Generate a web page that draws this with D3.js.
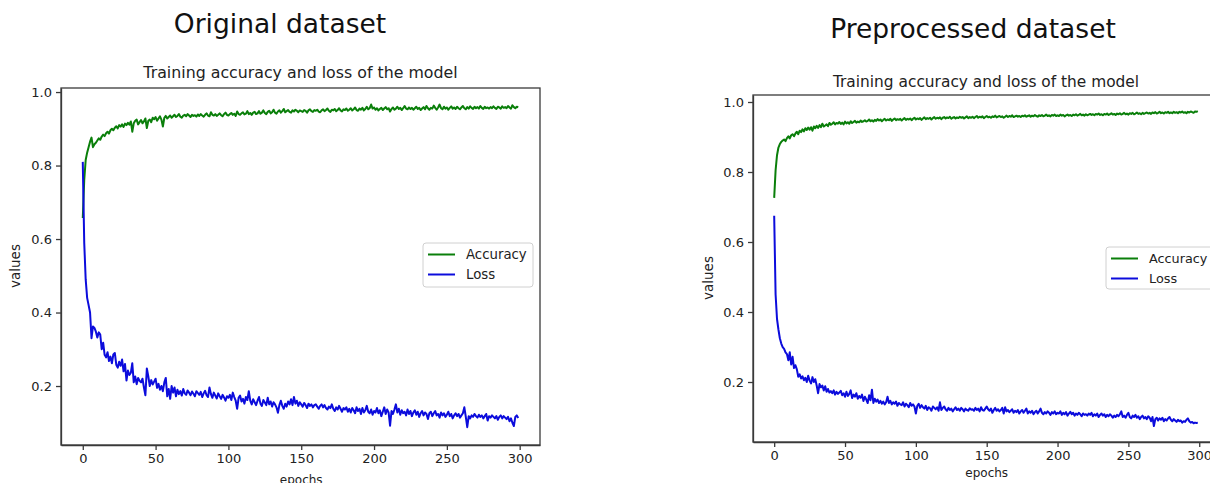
<!DOCTYPE html>
<html>
<head>
<meta charset="utf-8">
<script src="https://cdn.jsdelivr.net/npm/d3@7"></script>
<style>
  body { margin: 0; background: #fff; }
  svg { display: block; }
  .axis text { font-family: "DejaVu Sans", sans-serif; font-size: 13px; fill: #222; }
  .axis path, .axis line { stroke: #3a3a3a; stroke-width: 1.3; }
</style>
</head>
<body>
<svg id="chart" width="1210" height="483"></svg>
<script>
// values, one per epoch (0..299)
var orig_acc = [
  0.657, 0.760, 0.815, 0.835, 0.850, 0.865, 0.876, 0.850, 0.858, 0.862, 0.868, 0.874, 0.870, 0.879, 0.884, 0.880, 0.888, 0.892, 0.887, 0.896,
  0.900, 0.896, 0.903, 0.907, 0.901, 0.910, 0.906, 0.912, 0.905, 0.914, 0.910, 0.916, 0.911, 0.920, 0.892, 0.915, 0.922, 0.925, 0.912, 0.918,
  0.924, 0.915, 0.920, 0.928, 0.902, 0.922, 0.925, 0.918, 0.930, 0.926, 0.932, 0.922, 0.928, 0.934, 0.925, 0.906, 0.930, 0.935, 0.928, 0.932,
  0.936, 0.930, 0.934, 0.938, 0.932, 0.935, 0.940, 0.933, 0.930, 0.936, 0.938, 0.934, 0.940, 0.936, 0.932, 0.938, 0.935, 0.937, 0.933, 0.939,
  0.935, 0.940, 0.936, 0.933, 0.938, 0.942, 0.936, 0.934, 0.945, 0.938, 0.936, 0.940, 0.935, 0.938, 0.942, 0.937, 0.934, 0.940, 0.944, 0.938,
  0.936, 0.940, 0.943, 0.938, 0.941, 0.935, 0.947, 0.940, 0.938, 0.942, 0.945, 0.939, 0.941, 0.948, 0.940, 0.943, 0.938, 0.944, 0.946, 0.940,
  0.942, 0.948, 0.941, 0.944, 0.950, 0.943, 0.940, 0.946, 0.949, 0.942, 0.945, 0.952, 0.944, 0.941, 0.947, 0.950, 0.944, 0.948, 0.954, 0.945,
  0.948, 0.951, 0.946, 0.944, 0.950, 0.947, 0.952, 0.949, 0.945, 0.950, 0.948, 0.946, 0.951, 0.949, 0.944, 0.950, 0.953, 0.948, 0.946, 0.951,
  0.949, 0.952, 0.947, 0.945, 0.950, 0.953, 0.948, 0.951, 0.955, 0.949, 0.946, 0.952, 0.950, 0.954, 0.948, 0.951, 0.956, 0.950, 0.947, 0.953,
  0.951, 0.955, 0.949, 0.952, 0.956, 0.950, 0.953, 0.958, 0.951, 0.949, 0.955, 0.952, 0.957, 0.950, 0.954, 0.960, 0.953, 0.956, 0.966, 0.955,
  0.958, 0.952, 0.956, 0.950, 0.954, 0.957, 0.951, 0.955, 0.959, 0.953, 0.956, 0.947, 0.954, 0.958, 0.952, 0.955, 0.960, 0.954, 0.957, 0.951,
  0.956, 0.962, 0.955, 0.953, 0.958, 0.954, 0.957, 0.952, 0.956, 0.960, 0.954, 0.957, 0.951, 0.955, 0.959, 0.953, 0.962, 0.956, 0.952, 0.957,
  0.955, 0.963, 0.957, 0.952, 0.958, 0.966, 0.956, 0.953, 0.960, 0.955, 0.958, 0.952, 0.957, 0.961, 0.955, 0.958, 0.954, 0.960, 0.956, 0.953,
  0.958, 0.962, 0.956, 0.953, 0.959, 0.955, 0.961, 0.957, 0.954, 0.960, 0.956, 0.959, 0.955, 0.962, 0.957, 0.954, 0.960, 0.956, 0.958, 0.955,
  0.959, 0.956, 0.961, 0.957, 0.954, 0.960, 0.958, 0.955, 0.961, 0.957, 0.959, 0.956, 0.962, 0.958, 0.955, 0.964, 0.959, 0.956, 0.960, 0.958
];

var orig_loss = [
  0.810, 0.590, 0.490, 0.440, 0.420, 0.400, 0.330, 0.362, 0.358, 0.348, 0.332, 0.346, 0.340, 0.300, 0.318, 0.285, 0.278, 0.292, 0.268, 0.280,
  0.262, 0.286, 0.290, 0.258, 0.250, 0.266, 0.255, 0.272, 0.240, 0.260, 0.215, 0.242, 0.230, 0.236, 0.262, 0.210, 0.226, 0.205, 0.222, 0.214,
  0.210, 0.220, 0.196, 0.175, 0.248, 0.226, 0.200, 0.216, 0.204, 0.212, 0.220, 0.195, 0.206, 0.190, 0.200, 0.186, 0.210, 0.222, 0.172, 0.192,
  0.165, 0.200, 0.182, 0.196, 0.172, 0.190, 0.178, 0.186, 0.174, 0.192, 0.180, 0.176, 0.188, 0.182, 0.175, 0.185, 0.179, 0.172, 0.186, 0.181,
  0.176, 0.184, 0.170, 0.180, 0.187, 0.175, 0.170, 0.196, 0.178, 0.168, 0.182, 0.174, 0.166, 0.180, 0.172, 0.165, 0.176, 0.169, 0.160, 0.172,
  0.168, 0.176, 0.162, 0.182, 0.170, 0.160, 0.138, 0.168, 0.174, 0.158, 0.165, 0.152, 0.170, 0.162, 0.186, 0.160, 0.150, 0.164, 0.156, 0.148,
  0.160, 0.170, 0.152, 0.146, 0.162, 0.155, 0.148, 0.168, 0.150, 0.158, 0.144, 0.156, 0.150, 0.142, 0.127, 0.148, 0.160, 0.146, 0.138, 0.152,
  0.144, 0.158, 0.150, 0.164, 0.148, 0.170, 0.152, 0.160, 0.146, 0.156, 0.150, 0.144, 0.154, 0.148, 0.140, 0.152, 0.146, 0.150, 0.142, 0.148,
  0.150, 0.144, 0.138, 0.146, 0.150, 0.142, 0.148, 0.140, 0.136, 0.144, 0.140, 0.150, 0.138, 0.132, 0.142, 0.136, 0.146, 0.138, 0.130, 0.140,
  0.136, 0.142, 0.130, 0.138, 0.128, 0.140, 0.134, 0.126, 0.142, 0.132, 0.138, 0.124, 0.140, 0.128, 0.134, 0.146, 0.130, 0.126, 0.136, 0.122,
  0.132, 0.128, 0.140, 0.126, 0.134, 0.118, 0.130, 0.142, 0.124, 0.136, 0.128, 0.092, 0.132, 0.124, 0.136, 0.150, 0.128, 0.138, 0.122, 0.134,
  0.126, 0.130, 0.120, 0.136, 0.124, 0.132, 0.118, 0.128, 0.134, 0.122, 0.130, 0.116, 0.126, 0.132, 0.120, 0.128, 0.124, 0.110, 0.126, 0.130,
  0.118, 0.126, 0.132, 0.120, 0.124, 0.114, 0.128, 0.120, 0.126, 0.116, 0.122, 0.130, 0.118, 0.124, 0.112, 0.120, 0.126, 0.118, 0.124, 0.114,
  0.120, 0.126, 0.142, 0.116, 0.088, 0.118, 0.112, 0.120, 0.116, 0.124, 0.118, 0.114, 0.122, 0.116, 0.120, 0.112, 0.118, 0.124, 0.106, 0.118,
  0.114, 0.120, 0.116, 0.112, 0.118, 0.108, 0.116, 0.120, 0.112, 0.118, 0.114, 0.110, 0.116, 0.104, 0.112, 0.100, 0.091, 0.116, 0.120, 0.113
];

var prep_acc = [
  0.726, 0.805, 0.848, 0.870, 0.880, 0.886, 0.890, 0.893, 0.888, 0.897, 0.902, 0.896, 0.905, 0.908, 0.902, 0.910, 0.915, 0.908, 0.918, 0.914,
  0.922, 0.916, 0.925, 0.920, 0.927, 0.921, 0.928, 0.918, 0.930, 0.925, 0.932, 0.926, 0.934, 0.928, 0.938, 0.930, 0.933, 0.936, 0.931, 0.940,
  0.935, 0.938, 0.942, 0.936, 0.940, 0.938, 0.943, 0.937, 0.941, 0.936, 0.944, 0.939, 0.942, 0.938, 0.945, 0.940, 0.943, 0.946, 0.941, 0.944,
  0.942, 0.947, 0.943, 0.945, 0.948, 0.944, 0.946, 0.950, 0.945, 0.948, 0.944, 0.949, 0.946, 0.951, 0.947, 0.950, 0.945, 0.949, 0.952, 0.947,
  0.950, 0.948, 0.952, 0.946, 0.950, 0.953, 0.948, 0.951, 0.949, 0.952, 0.947, 0.951, 0.954, 0.949, 0.952, 0.950, 0.953, 0.948, 0.952, 0.955,
  0.950, 0.953, 0.951, 0.954, 0.949, 0.953, 0.956, 0.951, 0.954, 0.952, 0.955, 0.950, 0.954, 0.957, 0.952, 0.955, 0.953, 0.956, 0.951, 0.955,
  0.957, 0.953, 0.956, 0.954, 0.958, 0.952, 0.955, 0.957, 0.953, 0.956, 0.954, 0.958, 0.955, 0.957, 0.953, 0.956, 0.959, 0.954, 0.957, 0.955,
  0.958, 0.954, 0.957, 0.960, 0.955, 0.958, 0.956, 0.959, 0.954, 0.957, 0.960, 0.956, 0.958, 0.955, 0.959, 0.957, 0.961, 0.956, 0.958, 0.960,
  0.957, 0.959, 0.955, 0.958, 0.961, 0.957, 0.960, 0.958, 0.962, 0.957, 0.959, 0.961, 0.958, 0.960, 0.957, 0.961, 0.959, 0.962, 0.958, 0.960,
  0.962, 0.958, 0.961, 0.959, 0.963, 0.960, 0.958, 0.962, 0.960, 0.963, 0.959, 0.961, 0.964, 0.960, 0.962, 0.959, 0.963, 0.961, 0.964, 0.960,
  0.962, 0.960, 0.964, 0.961, 0.963, 0.959, 0.962, 0.964, 0.961, 0.963, 0.960, 0.964, 0.962, 0.965, 0.961, 0.963, 0.966, 0.962, 0.964, 0.961,
  0.965, 0.962, 0.964, 0.966, 0.963, 0.965, 0.962, 0.966, 0.964, 0.967, 0.963, 0.965, 0.962, 0.966, 0.964, 0.967, 0.963, 0.965, 0.968, 0.964,
  0.966, 0.963, 0.967, 0.965, 0.968, 0.964, 0.966, 0.969, 0.965, 0.967, 0.964, 0.968, 0.966, 0.969, 0.965, 0.967, 0.970, 0.966, 0.968, 0.965,
  0.969, 0.966, 0.968, 0.970, 0.967, 0.969, 0.966, 0.970, 0.968, 0.971, 0.967, 0.969, 0.972, 0.968, 0.970, 0.967, 0.971, 0.969, 0.972, 0.968,
  0.970, 0.968, 0.972, 0.969, 0.971, 0.968, 0.972, 0.970, 0.973, 0.969, 0.971, 0.968, 0.972, 0.970, 0.973, 0.971, 0.969, 0.973, 0.972, 0.974
];

var prep_loss = [
  0.675, 0.450, 0.380, 0.350, 0.325, 0.310, 0.300, 0.295, 0.285, 0.280, 0.262, 0.285, 0.250, 0.272, 0.240, 0.248, 0.236, 0.215, 0.222, 0.210,
  0.216, 0.205, 0.212, 0.200, 0.218, 0.204, 0.196, 0.214, 0.200, 0.208, 0.190, 0.168, 0.194, 0.185, 0.190, 0.176, 0.188, 0.172, 0.180, 0.170,
  0.174, 0.168, 0.176, 0.164, 0.172, 0.166, 0.170, 0.175, 0.162, 0.168, 0.158, 0.172, 0.160, 0.166, 0.176, 0.154, 0.164, 0.158, 0.168, 0.152,
  0.160, 0.155, 0.164, 0.146, 0.158, 0.150, 0.140, 0.162, 0.148, 0.178, 0.140, 0.152, 0.144, 0.150, 0.140, 0.146, 0.138, 0.144, 0.136, 0.142,
  0.158, 0.140, 0.146, 0.136, 0.142, 0.138, 0.144, 0.132, 0.140, 0.136, 0.134, 0.142, 0.130, 0.138, 0.134, 0.128, 0.140, 0.132, 0.136, 0.130,
  0.110, 0.132, 0.138, 0.126, 0.134, 0.128, 0.124, 0.132, 0.120, 0.128, 0.125, 0.118, 0.130, 0.126, 0.122, 0.128, 0.118, 0.142, 0.120, 0.126,
  0.130, 0.122, 0.118, 0.126, 0.120, 0.124, 0.116, 0.122, 0.128, 0.120, 0.124, 0.118, 0.126, 0.122, 0.116, 0.124, 0.120, 0.118, 0.125, 0.121,
  0.122, 0.118, 0.126, 0.120, 0.124, 0.116, 0.128, 0.120, 0.118, 0.124, 0.130, 0.122, 0.118, 0.124, 0.112, 0.120, 0.126, 0.118, 0.122, 0.116,
  0.120, 0.126, 0.110, 0.128, 0.116, 0.120, 0.114, 0.118, 0.122, 0.112, 0.118, 0.114, 0.120, 0.110, 0.116, 0.120, 0.112, 0.118, 0.124, 0.110,
  0.116, 0.112, 0.118, 0.108, 0.114, 0.118, 0.110, 0.116, 0.124, 0.112, 0.108, 0.114, 0.110, 0.116, 0.112, 0.106, 0.114, 0.110, 0.116, 0.108,
  0.112, 0.110, 0.116, 0.106, 0.112, 0.108, 0.114, 0.104, 0.110, 0.115, 0.108, 0.112, 0.104, 0.110, 0.106, 0.112, 0.108, 0.102, 0.110, 0.106,
  0.108, 0.104, 0.110, 0.106, 0.112, 0.102, 0.108, 0.104, 0.110, 0.100, 0.106, 0.110, 0.104, 0.108, 0.100, 0.106, 0.102, 0.108, 0.104, 0.098,
  0.104, 0.100, 0.106, 0.102, 0.108, 0.116, 0.100, 0.104, 0.098, 0.106, 0.112, 0.100, 0.096, 0.104, 0.100, 0.106, 0.098, 0.102, 0.094, 0.100,
  0.104, 0.096, 0.100, 0.094, 0.102, 0.098, 0.088, 0.100, 0.074, 0.094, 0.098, 0.090, 0.096, 0.092, 0.098, 0.088, 0.094, 0.090, 0.096, 0.100,
  0.092, 0.088, 0.094, 0.090, 0.086, 0.092, 0.088, 0.090, 0.084, 0.088, 0.086, 0.092, 0.096, 0.088, 0.084, 0.086, 0.082, 0.084, 0.083, 0.084
];

var x_ticks = [0, 50, 100, 150, 200, 250, 300];
var y_ticks = [0.2, 0.4, 0.6, 0.8, 1.0];
var series_names = ["Accuracy", "Loss"];
var series_colors = ["#0a7f0a", "#0c0cdc"];
var main_titles = ["Original dataset", "Preprocessed dataset"];
var sub_title = "Training accuracy and loss of the model";

// layout of the two panels (pixel positions of the axes box)
var panels = [
  {left: 61, top: 88, width: 479, height: 357, ymin: 0.0395, ymax: 1.011,
   title: main_titles[0], titleX: 280, titleY: 33, subSize: 15.8, subDy: -10,
   acc: orig_acc, loss: orig_loss, legX: 362, legY: 155, legH: 44, legFont: 13.3,
   valuesX: 15, valuesY: 266, epochsY: 484},
  {left: 753, top: 95, width: 466, height: 347, ymin: 0.0286, ymax: 1.02,
   title: main_titles[1], titleX: 973, titleY: 38, subSize: 15.4, subDy: -8,
   acc: prep_acc, loss: prep_loss, legX: 353, legY: 152, legH: 42, legFont: 12.8,
   valuesX: 708, valuesY: 278, epochsY: 477}
];

var svg = d3.select("#chart");

panels.forEach(function(p) {
  var x = d3.scaleLinear()
      .domain([-14.95, 313.95])
      .range([0, p.width]);
  var y = d3.scaleLinear()
      .domain([p.ymin, p.ymax])
      .range([p.height, 0]);

  var line = d3.line()
      .x(function(d, i) { return x(i); })
      .y(function(d) { return y(d); });

  svg.append("text")
      .attr("x", p.titleX)
      .attr("y", p.titleY)
      .attr("text-anchor", "middle")
      .style("font-family", "'DejaVu Sans', sans-serif")
      .style("font-size", "26.5px")
      .style("fill", "#111")
      .text(p.title);

  var g = svg.append("g")
      .attr("transform", "translate(" + p.left + "," + p.top + ")");

  g.append("text")
      .attr("x", p.width / 2)
      .attr("y", p.subDy)
      .attr("text-anchor", "middle")
      .style("font-family", "'DejaVu Sans', sans-serif")
      .style("font-size", p.subSize + "px")
      .style("fill", "#222")
      .text(sub_title);

  g.append("g")
      .attr("class", "axis axis--x")
      .attr("transform", "translate(0," + p.height + ")")
      .call(d3.axisBottom(x).tickValues(x_ticks).tickSize(5).tickPadding(4).tickSizeOuter(0));

  g.append("g")
      .attr("class", "axis axis--y")
      .call(d3.axisLeft(y).tickValues(y_ticks).tickFormat(d3.format(".1f")).tickSize(5).tickPadding(4).tickSizeOuter(0));

  // axes frame
  g.append("rect")
      .attr("width", p.width)
      .attr("height", p.height)
      .attr("fill", "none")
      .attr("stroke", "#3a3a3a")
      .attr("stroke-width", 1.3);

  g.append("path")
      .datum(p.acc)
      .attr("fill", "none")
      .attr("stroke", series_colors[0])
      .attr("stroke-width", 2)
      .attr("stroke-linejoin", "round")
      .attr("d", line);

  g.append("path")
      .datum(p.loss)
      .attr("fill", "none")
      .attr("stroke", series_colors[1])
      .attr("stroke-width", 2)
      .attr("stroke-linejoin", "round")
      .attr("d", line);

  // legend
  var leg = g.append("g")
      .attr("transform", "translate(" + p.legX + "," + p.legY + ")");
  leg.append("rect")
      .attr("width", 110)
      .attr("height", p.legH)
      .attr("rx", 3)
      .attr("fill", "#fff")
      .attr("fill-opacity", 0.85)
      .attr("stroke", "#d0d0d0");
  series_names.forEach(function(name, i) {
    var ly = 11.5 + i * 20;
    leg.append("line")
        .attr("x1", 5).attr("x2", 32)
        .attr("y1", ly).attr("y2", ly)
        .attr("stroke", series_colors[i])
        .attr("stroke-width", 2);
    leg.append("text")
        .attr("x", 43)
        .attr("y", ly)
        .attr("dy", "0.35em")
        .style("font-family", "'DejaVu Sans', sans-serif")
        .style("font-size", p.legFont + "px")
        .style("fill", "#222")
        .text(name);
  });

  svg.append("text")
      .attr("transform", "translate(" + p.valuesX + "," + p.valuesY + ") rotate(-90)")
      .attr("text-anchor", "middle")
      .attr("dy", "0.35em")
      .style("font-family", "'DejaVu Sans', sans-serif")
      .style("font-size", "13.5px")
      .style("fill", "#222")
      .text("values");

  svg.append("text")
      .attr("x", p.left + x(150))
      .attr("y", p.epochsY)
      .attr("text-anchor", "middle")
      .style("font-family", "'DejaVu Sans', sans-serif")
      .style("font-size", "12px")
      .style("fill", "#222")
      .text("epochs");
});
</script>
</body>
</html>
